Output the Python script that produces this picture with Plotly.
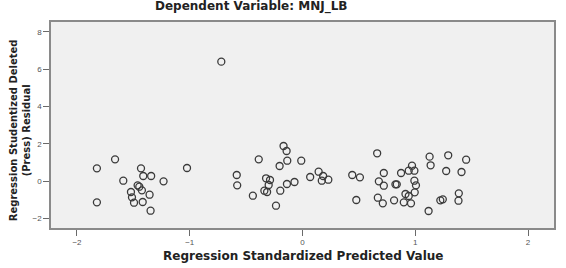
import plotly.graph_objects as go

x_vals = [-1.823, -1.823, -1.662, -1.589, -1.521, -1.512, -1.494, -1.462, -1.447, -1.432,
          -1.424, -1.417, -1.412, -1.356, -1.347, -1.342, -1.232, -1.024, -0.720, -0.583,
          -0.579, -0.440, -0.388, -0.338, -0.323, -0.314, -0.300, -0.288, -0.235, -0.203,
          -0.197, -0.168, -0.141, -0.138, -0.135, -0.071, -0.011, 0.068, 0.143, 0.183,
          0.171, 0.229, 0.441, 0.477, 0.509, 0.662, 0.668, 0.677, 0.712, 0.721,
          0.721, 0.812, 0.824, 0.836, 0.874, 0.898, 0.913, 0.942, 0.942, 0.962,
          0.971, 0.992, 0.992, 0.995, 1.006, 1.118, 1.127, 1.136, 1.222, 1.244,
          1.274, 1.292, 1.386, 1.383, 1.410, 1.451]
y_vals = [0.696, -1.125, 1.178, 0.032, -0.573, -0.857, -1.146, -0.214, -0.289, 0.696,
          -0.482, -1.109, 0.284, -0.718, -1.575, 0.284, 0.000, 0.712, 6.406, 0.337,
          -0.214, -0.771, 1.178, -0.503, 0.161, -0.573, -0.198, 0.070, -1.307, 0.819,
          -0.503, 1.891, 1.623, -0.145, 1.103, -0.037, 1.103, 0.230, 0.514, 0.284,
          0.032, 0.086, 0.337, -1.002, 0.214, 1.500, -0.878, 0.000, -1.178, 0.445,
          -0.236, -1.018, -0.161, -0.161, 0.445, -1.125, -0.680, 0.568, -0.787, -1.178,
          0.836, 0.568, 0.032, -0.589, -0.214, -1.591, 1.318, 0.857, -1.018, -0.964,
          0.552, 1.393, -0.643, -1.039, 0.498, 1.157]

x_ticks = [-2, -1, 0, 1, 2]
y_ticks = [-2, 0, 2, 4, 6, 8]

title_text = "Dependent Variable: MNJ_LB"
x_title = "Regression Standardized Predicted Value"
y_title = "Regression Studentized Deleted<br>(Press) Residual"

bold_font = "DejaVu Sans, Verdana, sans-serif"

fig = go.Figure()
fig.add_trace(go.Scatter(
    x=x_vals, y=y_vals, mode="markers",
    marker=dict(symbol="circle-open", size=7, color="#3a3a3a", line=dict(width=1.3, color="#3a3a3a")),
    showlegend=False, hoverinfo="skip"))

axis_common = dict(showgrid=False, zeroline=False, showline=True, mirror=True,
                   linecolor="#8a8a8a", linewidth=1.5, ticks="outside", ticklen=6,
                   tickwidth=1.2, tickcolor="#6a6a6a",
                   tickfont=dict(family="Liberation Sans, Arial, sans-serif", size=8, color="#555555"))

fig.update_xaxes(range=[-2.23, 2.23], tickvals=x_ticks, **axis_common)
fig.update_yaxes(range=[-2.5, 8.53], tickvals=y_ticks, **axis_common)

fig.update_layout(
    width=566, height=268,
    margin=dict(l=51, r=10, t=22, b=40),
    paper_bgcolor="white", plot_bgcolor="#f0f0f0",
    font=dict(family="Liberation Sans, Arial, sans-serif"),
    annotations=[
        dict(text="<b>" + title_text + "</b>", xref="paper", yref="paper", x=0.398, y=1.075,
             xanchor="center", yanchor="middle", showarrow=False,
             font=dict(family=bold_font, size=12, color="#222222")),
        dict(text="<b>" + x_title + "</b>", xref="paper", yref="paper", x=0.50, y=-0.136,
             xanchor="center", yanchor="middle", showarrow=False,
             font=dict(family=bold_font, size=12, color="#222222")),
        dict(text="<b>" + y_title + "</b>", xref="paper", yref="paper", x=-0.061, y=0.476,
             xanchor="center", yanchor="middle", showarrow=False, textangle=-90,
             font=dict(family=bold_font, size=10, color="#222222")),
    ],
)

fig.write_html("out.html")
